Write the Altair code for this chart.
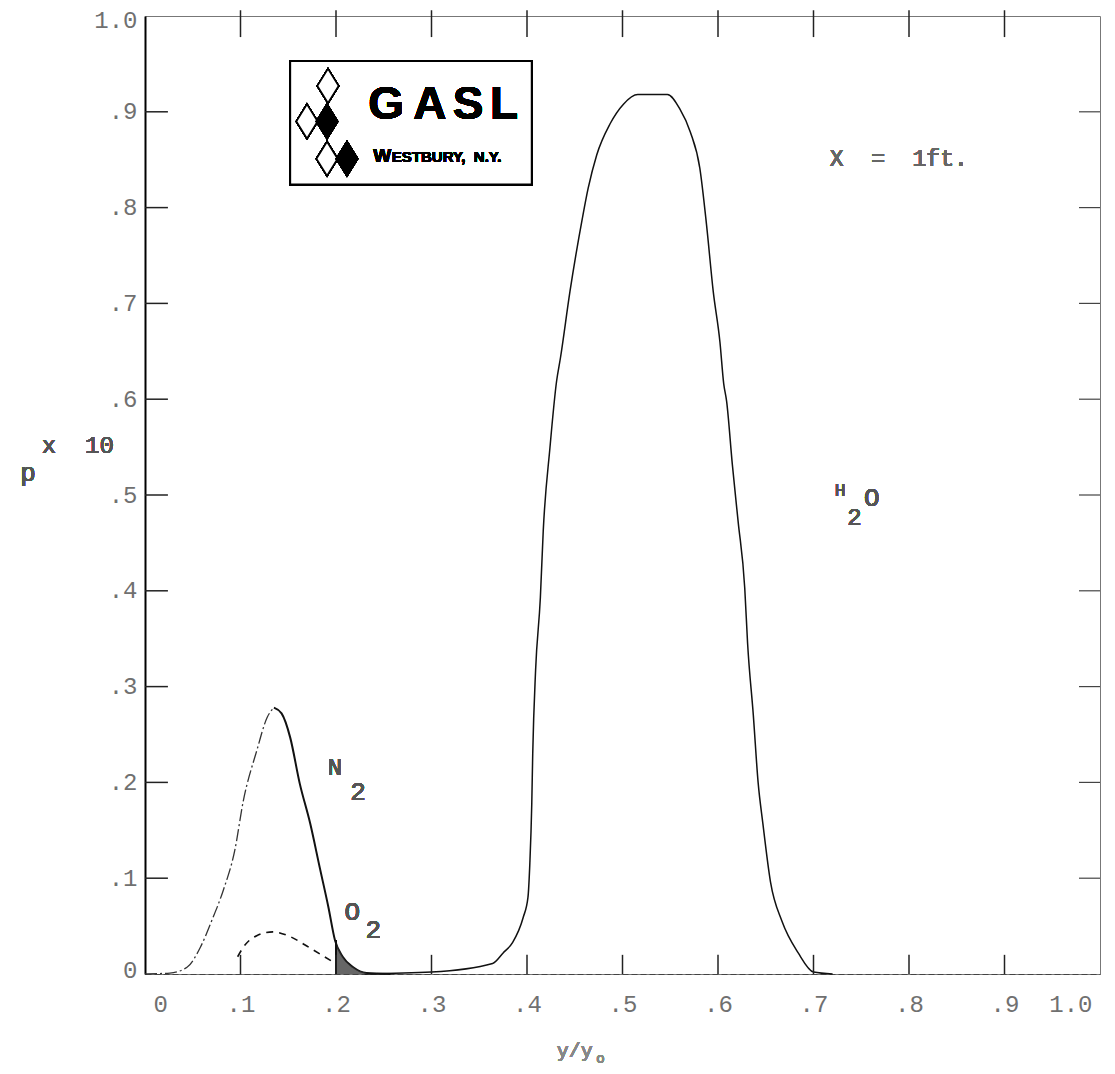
import altair as alt
import pandas as pd

# ---------------- data ----------------
N2_X = [0.0, 0.026, 0.044, 0.058, 0.070, 0.082, 0.094, 0.103, 0.117, 0.128, 0.135,
        0.143, 0.152, 0.162, 0.173, 0.183, 0.192, 0.199, 0.207, 0.218, 0.232, 0.257]
N2_Y = [0.0, 0.001, 0.007, 0.028, 0.056, 0.0875, 0.129, 0.181, 0.233, 0.268, 0.278,
        0.272, 0.247, 0.199, 0.157, 0.111, 0.070, 0.035, 0.018, 0.007, 0.001, 0.0]

O2_X = [0.097, 0.103, 0.117, 0.134, 0.152, 0.173, 0.197]
O2_Y = [0.018, 0.028, 0.040, 0.044, 0.039, 0.027, 0.0125]

H2O_X = [0.23, 0.300, 0.364, 0.375, 0.385, 0.396, 0.401, 0.403, 0.405, 0.406, 0.409,
         0.414, 0.417, 0.424, 0.431, 0.435, 0.445, 0.458, 0.464, 0.473, 0.487, 0.501,
         0.516, 0.547, 0.560, 0.571, 0.581, 0.588, 0.595, 0.602, 0.606, 0.609, 0.615,
         0.621, 0.628, 0.631, 0.637, 0.642, 0.647, 0.655, 0.667, 0.684, 0.700, 0.72]
H2O_Y = [0.0, 0.002, 0.011, 0.022, 0.033, 0.059, 0.080, 0.116, 0.178, 0.230, 0.317,
         0.393, 0.4625, 0.549, 0.619, 0.643, 0.7125, 0.789, 0.820, 0.855, 0.8875, 0.908,
         0.918, 0.918, 0.903, 0.879, 0.841, 0.782, 0.7125, 0.660, 0.616, 0.598, 0.532,
         0.473, 0.403, 0.345, 0.27, 0.20, 0.157, 0.096, 0.055, 0.022, 0.002, 0.0]

X_TICKS = [0.0, 0.1, 0.2, 0.3, 0.4, 0.5, 0.6, 0.7, 0.8, 0.9, 1.0]
Y_TICKS = [0.0, 0.1, 0.2, 0.3, 0.4, 0.5, 0.6, 0.7, 0.8, 0.9, 1.0]
INNER_TICKS = [0.1, 0.2, 0.3, 0.4, 0.5, 0.6, 0.7, 0.8, 0.9]

MONO = "Liberation Mono"
SANS = "Liberation Sans"
INK = "#111111"
GREY = "#707070"
NB = "\u00a0"

LABEL_EXPR = ("datum.value == 0 ? '0' : (datum.value >= 1 ? '1.0' : "
              "'.' + round(datum.value * 10))")

xscale = alt.Scale(domain=[0, 1], nice=False, zero=False)
yscale = alt.Scale(domain=[0, 1], nice=False, zero=False)

xaxis = alt.Axis(values=X_TICKS, labelExpr=LABEL_EXPR, grid=False, ticks=False,
                 domainColor="#444444", domainDash=[6, 3], domainWidth=1,
                 labelFont=MONO, labelFontSize=24, labelColor=GREY,
                 labelPadding=18, labelFlush=True, labelFlushOffset=-8, title=None)
yaxis = alt.Axis(values=Y_TICKS, labelExpr=LABEL_EXPR, grid=False, ticks=False,
                 domainColor="#000000", domainWidth=2,
                 labelFont=MONO, labelFontSize=24, labelColor=GREY,
                 labelPadding=8, labelFlush=True, labelFlushOffset=8, title=None)


def X(field="x"):
    return alt.X(f"{field}:Q", scale=xscale, axis=xaxis)


def Y(field="y"):
    return alt.Y(f"{field}:Q", scale=yscale, axis=yaxis)


n2 = pd.DataFrame({"x": N2_X, "y": N2_Y})
o2 = pd.DataFrame({"x": O2_X, "y": O2_Y})
h2o = pd.DataFrame({"x": H2O_X, "y": H2O_Y})

# ---------------- curves ----------------
n2_rise = alt.Chart(n2).transform_filter("datum.x <= 0.135").mark_line(
    color="#333333", strokeWidth=1.3, strokeDash=[12, 3, 2, 3], interpolate="monotone"
).encode(x=X(), y=Y())
n2_fall = alt.Chart(n2).transform_filter("datum.x >= 0.135").mark_line(
    color=INK, strokeWidth=2, interpolate="monotone"
).encode(x=X(), y=Y())
o2_line = alt.Chart(o2).mark_line(
    color=INK, strokeWidth=1.6, strokeDash=[7, 6], interpolate="monotone"
).encode(x=X(), y=Y())
h2o_line = alt.Chart(h2o).mark_line(
    color=INK, strokeWidth=1.5, interpolate="monotone"
).encode(x=X(), y=Y())
hatch = alt.Chart(n2).transform_filter("datum.x >= 0.199 && datum.x <= 0.24").mark_area(
    color="#333333", opacity=0.75, interpolate="monotone"
).encode(x=X(), y=Y())
hatch_edge = alt.Chart(n2).mark_rule(color=INK, strokeWidth=2).encode(
    x=alt.datum(0.2), y=alt.datum(0.0), y2=alt.datum(0.035))

# ---------------- inward ticks ----------------
ticks_df = pd.DataFrame({"x": INNER_TICKS, "y": INNER_TICKS})
left_ticks = alt.Chart(ticks_df).mark_rule(color="#222222", strokeWidth=1.5).encode(
    y=Y(), x=alt.datum(0.0), x2=alt.datum(0.024))
right_ticks = alt.Chart(ticks_df).mark_rule(color="#444444", strokeWidth=1.2).encode(
    y=Y(), x=alt.datum(0.978), x2=alt.datum(1.0))
bottom_ticks = alt.Chart(ticks_df).mark_rule(color="#222222", strokeWidth=1.5).encode(
    x=X(), y=alt.datum(0.0), y2=alt.datum(0.02))
top_ticks = alt.Chart(ticks_df).mark_rule(color="#222222", strokeWidth=1.5).encode(
    x=X(), y=alt.datum(1.006), y2=alt.datum(0.978))


# ---------------- annotations ----------------
def label(text, x, y, size=26, font=MONO, color="#555555", weight="normal",
          align="center", baseline="middle"):
    return alt.Chart(n2).mark_text(
        text=text, font=font, fontSize=size, color=color, fontWeight=weight,
        align=align, baseline=baseline
    ).encode(x=alt.datum(x), y=alt.datum(y))


annotations = [
    label("N", 0.199, 0.2146, 24),
    label("2", 0.223, 0.190, 26),
    label("O", 0.217, 0.0646, 26),
    label("2", 0.239, 0.046, 26),
    label("H", 0.728, 0.504, 18),
    label("2", 0.743, 0.476, 24),
    label("O", 0.761, 0.497, 26),
    label(f"X{NB}{NB}={NB}{NB}1ft.", 0.717, 0.851, 23, align="left", color="#666666"),
    label(f"x{NB}{NB}10", -0.108, 0.551, 24, align="left"),
    label("p", -0.1225, 0.523, 26),
    label("y/y", 0.45, -0.08, 20, color="#888888"),
    label("o", 0.477, -0.089, 14, color="#888888"),
]

# ---------------- GASL logo ----------------
logo_box = alt.Chart(n2).mark_rect(fill="white", stroke="black", strokeWidth=2).encode(
    x=alt.datum(0.152), x2=alt.datum(0.405), y=alt.datum(0.953), y2=alt.datum(0.824))

DIAMOND = "M0,-1L0.62,0L0,1L-0.62,0Z"


def diamond(x, y, filled):
    return alt.Chart(n2).mark_point(
        shape=DIAMOND, size=1156, filled=filled,
        fill="black" if filled else "white", stroke="black", strokeWidth=1.6,
        opacity=1
    ).encode(x=alt.datum(x), y=alt.datum(y))


logo = [
    logo_box,
    diamond(0.1916, 0.9270, False),
    diamond(0.1696, 0.8900, False),
    diamond(0.1906, 0.8900, True),
    diamond(0.1906, 0.8510, False),
    diamond(0.2115, 0.8510, True),
    label("G", 0.2524, 0.8927, 46, font=SANS, color="black", weight="bold", baseline="alphabetic"),
    label("A", 0.2984, 0.8927, 46, font=SANS, color="black", weight="bold", baseline="alphabetic"),
    label("S", 0.3382, 0.8927, 46, font=SANS, color="black", weight="bold", baseline="alphabetic"),
    label("L", 0.3759, 0.8927, 46, font=SANS, color="black", weight="bold", baseline="alphabetic"),
    label("W", 0.239, 0.848, 19, font=SANS, color="black", weight="bold", align="left", baseline="alphabetic"),
    label(f"ESTBURY,{NB}{NB}N.Y.", 0.2585, 0.848, 15, font=SANS, color="black", weight="bold", align="left", baseline="alphabetic"),
]

chart = alt.layer(
    h2o_line, n2_rise, n2_fall, o2_line, hatch, hatch_edge,
    left_ticks, right_ticks, bottom_ticks, top_ticks,
    *annotations, *logo
).properties(
    width=955, height=958,
    autosize=alt.AutoSizeParams(type="none"),
    padding={"left": 137, "top": 8, "right": 7, "bottom": 92},
).configure_view(stroke="#777777", strokeWidth=1)

chart.save("out.html", embed_options={"renderer": "svg", "actions": False})
